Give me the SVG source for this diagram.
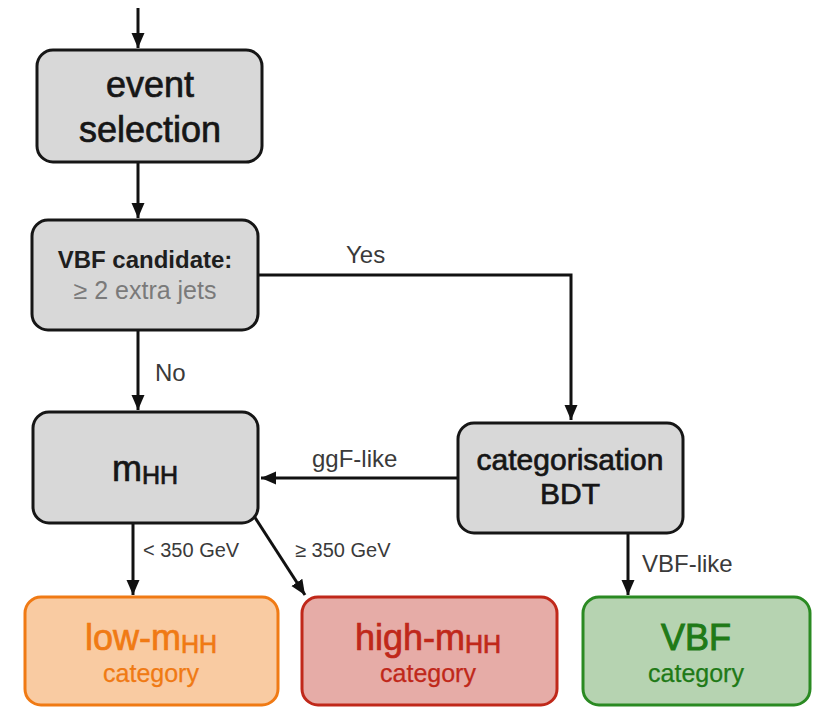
<svg xmlns="http://www.w3.org/2000/svg" width="818" height="707" viewBox="0 0 818 707">
  <style>
    text { font-family: "Liberation Sans", Arial, sans-serif; text-anchor: middle; }
    .box { stroke-width: 3; }
    .grey { fill: #d8d8d8; stroke: #161616; }
    .low { fill: #f9cba2; stroke: #f07a14; }
    .high { fill: #e6aca7; stroke: #c0281a; }
    .vbf { fill: #b6d3b1; stroke: #2a8a22; }
    .heavy { stroke-width: 0.7; }
    .sub { font-size: 25px; stroke-width: 0.25; }
    .big { font-size: 36px; fill: #161616; stroke: #161616; }
    .mid { font-size: 30px; fill: #161616; stroke: #161616; }
    .lbl { font-size: 24px; fill: #3a3a3a; text-anchor: start; }
    .cut { font-size: 20px; fill: #3a3a3a; text-anchor: start; }
    .conn { fill: none; stroke: #111; stroke-width: 3; }
  </style>
  <defs>
    <marker id="arrow" markerUnits="userSpaceOnUse" markerWidth="16" markerHeight="16" viewBox="0 0 16 16" refX="15" refY="8" orient="auto">
      <path d="M0,1.5 L15,8 L0,14.5 Z" fill="#111"/>
    </marker>
  </defs>

  <rect width="818" height="707" fill="#ffffff"/>

  <!-- connectors -->
  <g id="connectors">
    <line class="conn" x1="138" y1="8" x2="138" y2="48" marker-end="url(#arrow)"/>
    <line class="conn" x1="138" y1="162" x2="138" y2="218" marker-end="url(#arrow)"/>
    <polyline class="conn" points="258,275 571,275 571,420" marker-end="url(#arrow)"/>
    <line class="conn" x1="138" y1="330" x2="138" y2="410" marker-end="url(#arrow)"/>
    <line class="conn" x1="457" y1="478" x2="261" y2="478" marker-end="url(#arrow)"/>
    <line class="conn" x1="133" y1="523" x2="133" y2="595" marker-end="url(#arrow)"/>
    <line class="conn" x1="254" y1="516" x2="305" y2="595" marker-end="url(#arrow)"/>
    <line class="conn" x1="628" y1="533" x2="628" y2="595" marker-end="url(#arrow)"/>
    <text class="lbl" x="346" y="263">Yes</text>
    <text class="lbl" x="155" y="381">No</text>
    <text class="lbl" x="312" y="467">ggF-like</text>
    <text class="lbl" x="642" y="572">VBF-like</text>
    <text class="cut" x="143" y="557">&lt; 350 GeV</text>
    <text class="cut" x="295" y="557">≥ 350 GeV</text>
  </g>

  <g id="event-selection">
    <rect class="box grey" x="37" y="50" width="225" height="112" rx="16"/>
    <text class="big heavy" x="150" y="97">event</text>
    <text class="big heavy" x="150" y="142">selection</text>
  </g>

  <g id="vbf-candidate">
    <rect class="box grey" x="32" y="220" width="226" height="110" rx="16"/>
    <text x="145" y="268" font-size="24" font-weight="bold" fill="#1e1e1e">VBF candidate:</text>
    <text x="145" y="299" font-size="25" fill="#7a7a7a">≥ 2 extra jets</text>
  </g>

  <g id="mhh">
    <rect class="box grey" x="33" y="412" width="225" height="111" rx="16"/>
    <text class="big heavy" x="145" y="481">m<tspan font-size="25" dy="3">HH</tspan></text>
  </g>

  <g id="categorisation-bdt">
    <rect class="box grey" x="458" y="423" width="225" height="110" rx="16"/>
    <text class="mid heavy" x="570" y="470">categorisation</text>
    <text class="mid heavy" x="570" y="504">BDT</text>
  </g>

  <g id="low-mhh-category">
    <rect class="box low" x="25" y="597" width="253" height="108" rx="16"/>
    <text class="heavy" x="151" y="650" font-size="36" fill="#f07a14" stroke="#f07a14">low-m<tspan font-size="25" dy="3">HH</tspan></text>
    <text class="sub" x="151" y="682" fill="#f07a14" stroke="#f07a14">category</text>
  </g>

  <g id="high-mhh-category">
    <rect class="box high" x="302" y="597" width="255" height="108" rx="16"/>
    <text class="heavy" x="428" y="650" font-size="36" fill="#c0281a" stroke="#c0281a">high-m<tspan font-size="25" dy="3">HH</tspan></text>
    <text class="sub" x="428" y="682" fill="#c0281a" stroke="#c0281a">category</text>
  </g>

  <g id="vbf-category">
    <rect class="box vbf" x="583" y="597" width="227" height="108" rx="16"/>
    <text x="696" y="650" font-size="36" fill="#1f7a17" stroke="#1f7a17" stroke-width="1">VBF</text>
    <text class="sub" x="696" y="682" fill="#1f7a17" stroke="#1f7a17">category</text>
  </g>
</svg>
